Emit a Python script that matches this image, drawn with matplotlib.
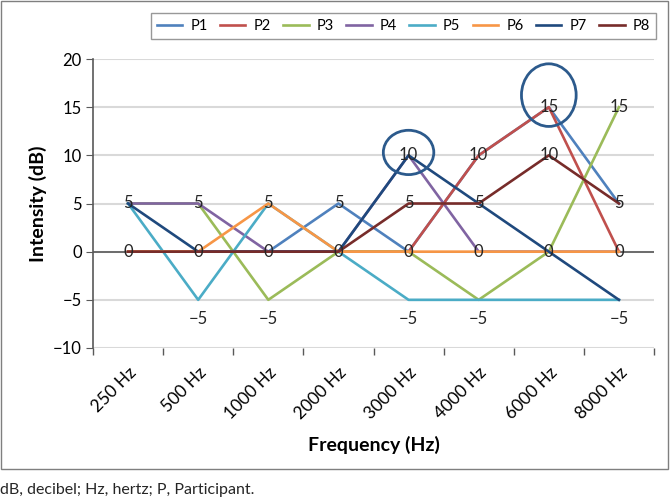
import matplotlib.pyplot as plt
from matplotlib.patches import Ellipse, Rectangle

plt.rcParams['font.family'] = ['Lato', 'DejaVu Sans']

freqs = ["250 Hz", "500 Hz", "1000 Hz", "2000 Hz", "3000 Hz", "4000 Hz", "6000 Hz", "8000 Hz"]
names = ["P1", "P2", "P3", "P4", "P5", "P6", "P7", "P8"]
p1 = [0, 0, 0, 5, 0, 10, 15, 5]
p2 = [0, 0, 0, 0, 0, 10, 15, 0]
p3 = [5, 5, -5, 0, 0, -5, 0, 15]
p4 = [5, 5, 0, 0, 10, 0, 0, 0]
p5 = [5, -5, 5, 0, -5, -5, None, -5]   # no point at 6000 Hz, line joins the gap
p6 = [0, 0, 5, 0, 0, 0, 0, 0]
p7 = [5, 0, 0, 0, 10, 5, 0, -5]
p8 = [0, 0, 0, 0, 5, 5, 10, 5]
series = [p1, p2, p3, p4, p5, p6, p7, p8]
colors = ["#4F81BD", "#C0504D", "#9BBB59", "#8064A2", "#4BACC6", "#F79646", "#1F497D", "#772C2A"]

# highlighted points (category index, value)
circled = [(4, 10), (6, 15)]

W, H = 670, 499
fig = plt.figure(figsize=(W / 100, H / 100), dpi=100)
ax = fig.add_axes([93 / W, 1 - 348 / H, (654 - 93) / W, (348 - 59) / H])

for vals, name, c in zip(series, names, colors):
    xs = [i for i, v in enumerate(vals) if v is not None]
    ys = [v for v in vals if v is not None]
    ax.plot(xs, ys, color=c, lw=1.9, label=name, zorder=3)

# data labels (identical labels overlap, so draw each once)
done = set()
for vals in series:
    for i, v in enumerate(vals):
        if v is None or (i, v) in done:
            continue
        done.add((i, v))
        if v < 0:
            ax.annotate("\u2212" + str(abs(v)), (i, v), xytext=(0, -14), textcoords="offset points",
                        ha="center", va="center", fontsize=12, color="#262626", zorder=5)
        else:
            ax.text(i, v, str(v), ha="center", va="center", fontsize=12, color="#262626", zorder=5)

# circles around peaks
ax.add_patch(Ellipse((circled[0][0], circled[0][1] + 0.3), 0.72, 4.6, fill=False,
                     edgecolor="#2C5A8C", lw=2.0, zorder=6, clip_on=False))
ax.add_patch(Ellipse((circled[1][0], circled[1][1] + 1.25), 0.78, 6.5, fill=False,
                     edgecolor="#2C5A8C", lw=2.0, zorder=6, clip_on=False))

ax.set_xlim(-0.5, len(freqs) - 0.5)
ax.set_ylim(-10, 20)
ax.set_yticks([-10, -5, 0, 5, 10, 15, 20])
ax.set_yticklabels(["\u221210", "\u22125", "0", "5", "10", "15", "20"])
ax.yaxis.grid(True, color="#D9D9D9", lw=1.5, zorder=0)
ax.axhline(0, color="#595959", lw=1.2, zorder=2)

ax.set_xticks(range(len(freqs)))
ax.set_xticklabels(freqs, rotation=45, ha="right", rotation_mode="anchor", fontsize=12.5)
ax.set_xticks([i - 0.5 for i in range(len(freqs) + 1)], minor=True)
ax.tick_params(axis="x", which="major", length=0, pad=12)
ax.tick_params(axis="x", which="minor", length=5, color="#595959", width=1)
ax.tick_params(axis="y", length=5, color="#595959", labelsize=12, pad=3)

for s in ["top", "right", "bottom"]:
    ax.spines[s].set_visible(False)
ax.spines["left"].set_color("#595959")
ax.spines["left"].set_linewidth(1.2)

ax.set_ylabel("Intensity (dB)", fontsize=14, fontweight="bold", labelpad=4)
ax.set_xlabel("Frequency (Hz)", fontsize=14, fontweight="bold", labelpad=10)

fig.legend(loc="upper right", bbox_to_anchor=(663 / W, 1 - 6 / H), ncol=8, fontsize=10.5,
           frameon=True, fancybox=False, edgecolor="#7F7F7F", handlelength=1.75,
           columnspacing=0.85, handletextpad=0.55, borderpad=0.4)

fig.add_artist(Rectangle((1 / W, 1 - 469 / H), 667 / W, 468 / H, transform=fig.transFigure,
                         fill=False, edgecolor="#7F7F7F", lw=1))
fig.text(0, 1 - 490 / H, "dB, decibel; Hz, hertz; P, Participant.", fontsize=11.5,
         va="center", ha="left", color="#262626")

fig.savefig("out.png", dpi=100)
